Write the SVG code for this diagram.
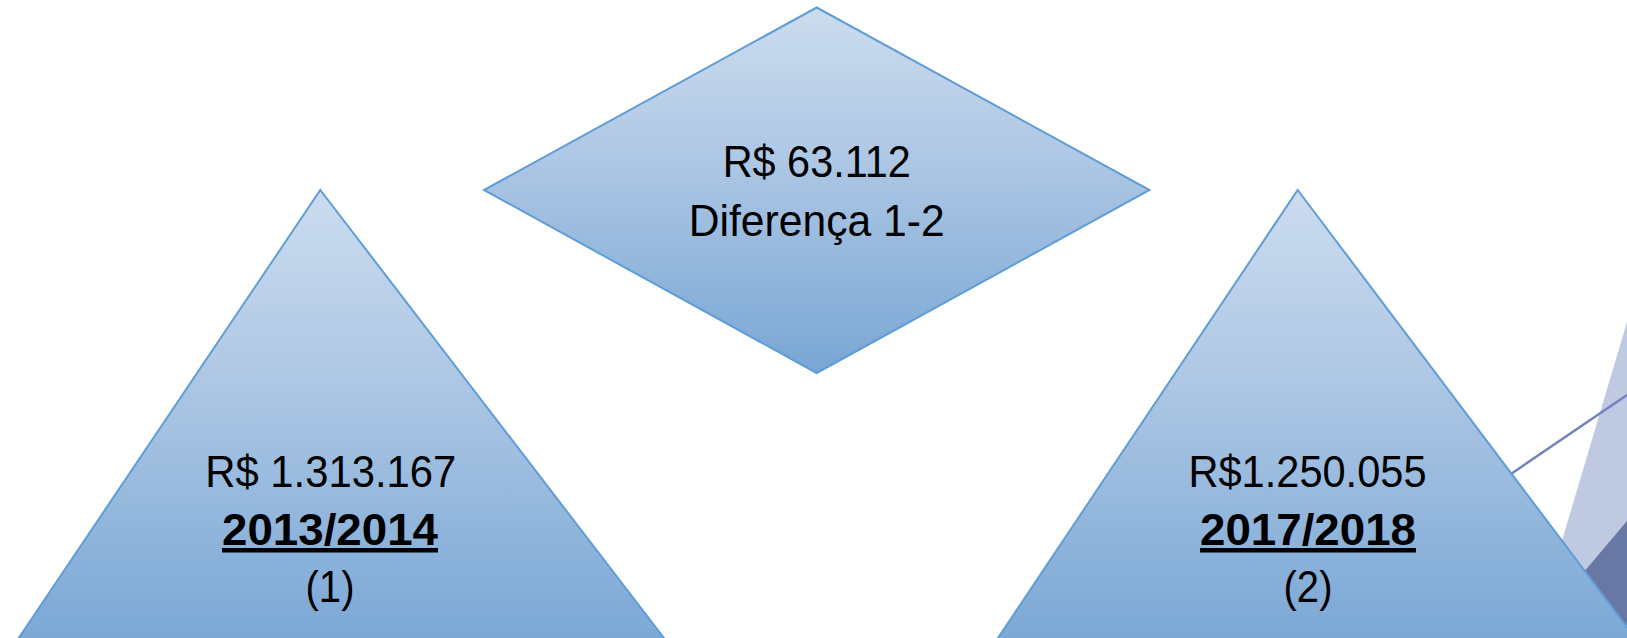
<svg xmlns="http://www.w3.org/2000/svg" width="1627" height="638" viewBox="0 0 1627 638">
<style>
.shape{stroke:#5F9DD6;stroke-width:2;stroke-linejoin:miter}
.t{font-family:"Liberation Sans",Arial,sans-serif;font-size:45px;fill:#000;text-anchor:middle}
.b{font-weight:bold;text-decoration:underline}
</style>
<defs>
<linearGradient id="gDia" gradientUnits="userSpaceOnUse" x1="0" y1="7" x2="0" y2="373">
<stop offset="0" stop-color="#CCDCEE"/>
<stop offset="0.4" stop-color="#AFC8E5"/>
<stop offset="1" stop-color="#79A6D4"/>
</linearGradient>
<linearGradient id="gTri" gradientUnits="userSpaceOnUse" x1="0" y1="190" x2="0" y2="640">
<stop offset="0" stop-color="#CCDCEE"/>
<stop offset="0.4" stop-color="#AFC8E5"/>
<stop offset="1" stop-color="#7BA8D5"/>
</linearGradient>
</defs>
<g id="background">
<polygon points="1627,322 1533,638 1627,638" fill="#C0C9E2"/>
<polygon points="1627,521 1528,638 1627,638" fill="#6877A4"/>
</g>
<g id="connectors">
<line x1="1627" y1="395" x2="1505" y2="478" stroke="#7382BE" stroke-width="2.5"/>
</g>
<g id="node-diferenca">
<polygon class="shape" points="816.7,7.5 1149.5,190 816.7,373 484,190" fill="url(#gDia)"/>
<text class="t" x="816.7" y="176.7" textLength="188" lengthAdjust="spacingAndGlyphs">R$ 63.112</text>
<text class="t" x="816.7" y="235.5" textLength="256" lengthAdjust="spacingAndGlyphs">Diferença 1-2</text>
</g>
<g id="node-2013">
<polygon class="shape" points="320.3,190 711.5,700 -23,700" fill="url(#gTri)"/>
<text class="t" x="330.8" y="486.7" textLength="251" lengthAdjust="spacingAndGlyphs">R$ 1.313.167</text>
<text class="t b" x="330" y="545" textLength="216" lengthAdjust="spacingAndGlyphs">2013/2014</text>
<text class="t" x="330" y="602" textLength="49" lengthAdjust="spacingAndGlyphs">(1)</text>
</g>
<g id="node-2017">
<polygon class="shape" points="1297.7,190 1682,700 956.5,700" fill="url(#gTri)"/>
<text class="t" x="1307.5" y="486.7" textLength="238" lengthAdjust="spacingAndGlyphs">R$1.250.055</text>
<text class="t b" x="1308" y="545" textLength="216" lengthAdjust="spacingAndGlyphs">2017/2018</text>
<text class="t" x="1308" y="602" textLength="49" lengthAdjust="spacingAndGlyphs">(2)</text>
</g>
</svg>
